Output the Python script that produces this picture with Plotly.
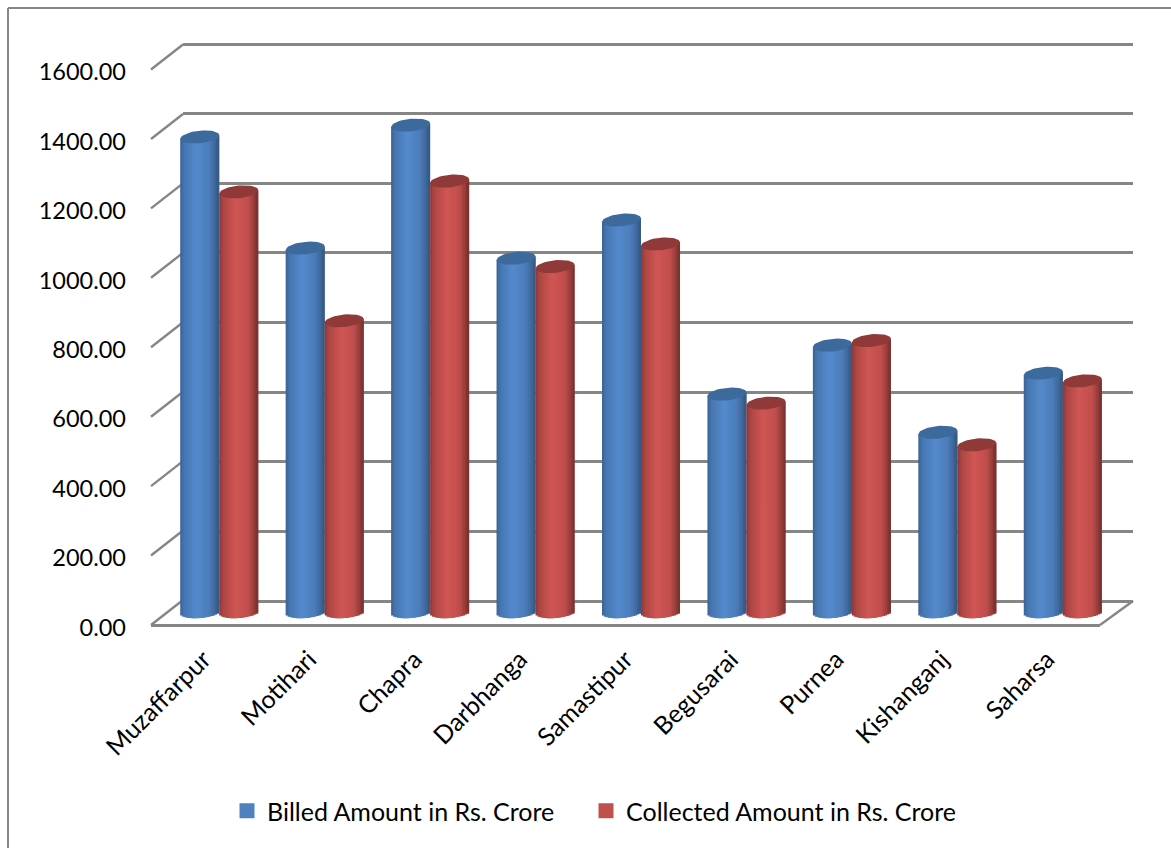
import math
import plotly.graph_objects as go

categories = ["Muzaffarpur", "Motihari", "Chapra", "Darbhanga", "Samastipur",
              "Begusarai", "Purnea", "Kishanganj", "Saharsa"]
billed = [1367, 1047, 1401, 1018, 1128, 627, 768, 517, 687]
collected = [1209, 838, 1240, 994, 1059, 601, 781, 481, 665]
y_ticks = [0, 200, 400, 600, 800, 1000, 1200, 1400, 1600]
names = ["Billed Amount in Rs. Crore", "Collected Amount in Rs. Crore"]

W, H = 1171, 848
GRID = "#868686"
FONT = "Lato"
TS = 23.5
LS = 25
PX_PER_UNIT = 0.3475
WALL_PX = (601 - 44) / 1600


def px(x):
    return x / W


def py(y):
    return 1 - y / H


def dom(a, b):
    return [a / W, b / W]


def ydom(bottom, top):
    return [1 - bottom / H, 1 - top / H]


def lerp(stops, t):
    for (t0, c0), (t1, c1) in zip(stops, stops[1:]):
        if t <= t1:
            f = (t - t0) / (t1 - t0)
            return "rgb(%d,%d,%d)" % tuple(round(a + (b - a) * f) for a, b in zip(c0, c1))
    return "rgb(%d,%d,%d)" % stops[-1][1]


blue_stops = [(0, (58, 98, 146)), (0.1, (70, 118, 176)), (0.42, (84, 138, 205)),
              (0.75, (76, 124, 186)), (0.93, (60, 98, 146)), (1, (54, 86, 128))]
red_stops = [(0, (136, 56, 54)), (0.1, (172, 70, 68)), (0.42, (208, 86, 84)),
             (0.75, (192, 78, 76)), (0.93, (140, 56, 54)), (1, (118, 46, 44))]
series = [
    (billed, -0.185, blue_stops, "#3C6A9C", "#4F81BD", names[0], "legend"),
    (collected, 0.185, red_stops, "#8F3A38", "#C0504D", names[1], "legend2"),
]

HALF_W = 0.185
CAP_B = 6.3 / PX_PER_UNIT
TILT = 1.8 / PX_PER_UNIT
BOTTOM_B = 6.0 / PX_PER_UNIT
N = 20

fig = go.Figure()
xs = list(range(len(categories)))

# empty carrier so the back-wall subplot (and its gridlines) is drawn first
fig.add_trace(go.Scatter(x=[None], y=[None], mode="markers", xaxis="x", yaxis="y",
                         showlegend=False, hoverinfo="skip"))

for values, shift, stops, cap, swatch, name, leg in series:
    for i in range(N):
        t0, t1 = i / N, (i + 1) / N
        tm = (t0 + t1) / 2
        u = 2 * tm - 1
        tilt = TILT * u
        low = -BOTTOM_B * math.sqrt(max(0, 1 - u * u)) + tilt
        # each strip runs under the next one so no seams show between them
        strip = min(2 / N, 1 - t0)
        fig.add_trace(go.Bar(
            x=xs, y=[v + tilt - low for v in values], base=[low] * len(values),
            width=2 * HALF_W * strip, offset=shift - HALF_W + 2 * HALF_W * t0,
            marker=dict(color=lerp(stops, tm), line=dict(width=0)),
            xaxis="x2", yaxis="y2", showlegend=False, hoverinfo="skip"))
    cx, cy = [], []
    for k, v in zip(xs, values):
        for j in range(49):
            a = 2 * math.pi * j / 48
            cx.append(k + shift + HALF_W * math.cos(a))
            cy.append(v + TILT * math.cos(a) + CAP_B * math.sin(a))
        cx.append(None)
        cy.append(None)
    fig.add_trace(go.Scatter(x=cx, y=cy, mode="lines", fill="toself", fillcolor=cap,
                             line=dict(width=0, color=cap), xaxis="x2", yaxis="y2",
                             showlegend=False, hoverinfo="skip"))

for values, shift, stops, cap, swatch, name, leg in series:
    fig.add_trace(go.Scatter(x=[None], y=[None], mode="markers", name=name, legend=leg,
                             marker=dict(symbol="square", size=15, color=swatch),
                             xaxis="x3", yaxis="y3"))

shapes = []
for v in y_ticks:
    y = 625 - v * 555.5 / 1600
    shapes.append(dict(type="line", xref="paper", yref="paper", layer="below",
                       x0=px(151), y0=py(y), x1=px(183), y1=py(y - 25),
                       line=dict(color=GRID, width=2.4)))
shapes.append(dict(type="line", xref="paper", yref="paper", layer="below",
                   x0=px(1100), y0=py(625), x1=px(1133), y1=py(601),
                   line=dict(color=GRID, width=2.4)))
shapes.append(dict(type="line", xref="paper", yref="paper", layer="below",
                   x0=px(8), y0=py(8), x1=px(8), y1=py(848), line=dict(color=GRID, width=2)))
shapes.append(dict(type="line", xref="paper", yref="paper", layer="below",
                   x0=px(8), y0=py(8), x1=px(1171), y1=py(8), line=dict(color=GRID, width=2)))

legend_common = dict(orientation="h", yanchor="middle", xanchor="left",
                     font=dict(family=FONT, size=LS), bgcolor="rgba(0,0,0,0)", itemwidth=30)

fig.update_layout(
    template=None,
    width=W, height=H, autosize=False,
    margin=dict(l=0, r=0, t=0, b=0, pad=0, autoexpand=False),
    paper_bgcolor="white", plot_bgcolor="rgba(0,0,0,0)",
    barmode="overlay",
    font=dict(family=FONT, size=TS, color="#000000"),
    shapes=shapes,
    showlegend=True,
    legend=dict(x=px(227), y=py(811), **legend_common),
    legend2=dict(x=px(586), y=py(811), **legend_common),
    xaxis=dict(domain=dom(183, 1133), range=[0, 1], showgrid=False, zeroline=False,
               showline=False, showticklabels=False, ticks="", fixedrange=True, automargin=False),
    yaxis=dict(domain=ydom(601 + 50 * WALL_PX, 44 - 50 * WALL_PX), range=[-50, 1650],
               tickmode="array", tickvals=y_ticks, showgrid=True,
               gridcolor=GRID, gridwidth=2.6, zeroline=False, showline=False,
               showticklabels=False, ticks="", fixedrange=True, automargin=False),
    xaxis2=dict(domain=dom(166.5, 1115.5), range=[-0.5, 8.5], visible=False, anchor="y2",
                fixedrange=True, automargin=False),
    yaxis2=dict(domain=ydom(612 + 100 * PX_PER_UNIT, 612 - 1700 * PX_PER_UNIT),
                range=[-100, 1700], visible=False, anchor="x2", fixedrange=True, automargin=False),
    xaxis3=dict(domain=dom(151, 1100), range=[-0.5, 8.5], anchor="free", position=py(625),
                tickmode="array", tickvals=xs, ticktext=categories, tickangle=-45,
                showgrid=False, zeroline=False, showline=True, linecolor=GRID, linewidth=2.6,
                ticks="", ticklabelstandoff=8, tickfont=dict(family=FONT, size=LS),
                fixedrange=True, automargin=False),
    yaxis3=dict(domain=ydom(627.5, 72), range=[0, 1600], anchor="x3", tickmode="array",
                tickvals=y_ticks, tickformat=".2f", showgrid=False, zeroline=False,
                showline=False, ticks="", ticklabelstandoff=24,
                tickfont=dict(family=FONT, size=TS), fixedrange=True, automargin=False),
)

fig.write_html("out.html", config={"displayModeBar": False},
               post_script="document.body.style.margin='0';")
